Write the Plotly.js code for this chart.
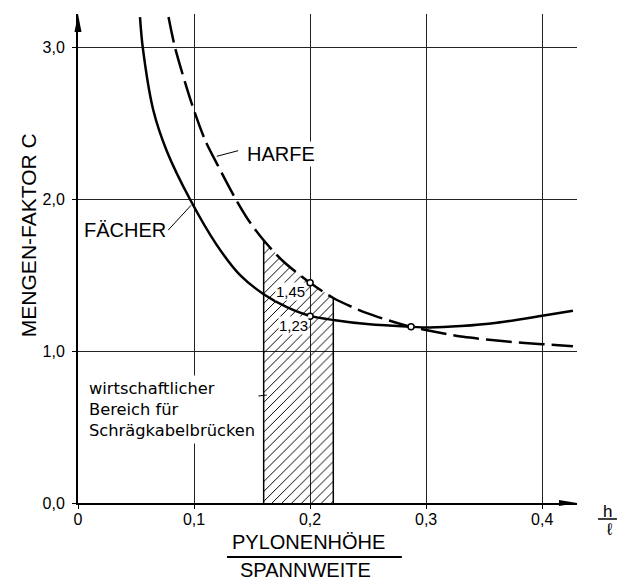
<!DOCTYPE html>
<html><head><meta charset="utf-8">
<script src="https://cdn.plot.ly/plotly-3.0.1.min.js"></script>
<style>html,body{margin:0;padding:0;background:#fff}</style>
</head><body><div id="chart" style="width:617px;height:583px"></div>
<script>
// FÄCHER (fan) – solid curve
const faecherX = [0.0534, 0.0558, 0.0649, 0.0764, 0.0965, 0.1195, 0.1397, 0.16, 0.18, 0.2, 0.22, 0.249, 0.287, 0.303, 0.33, 0.361, 0.4, 0.4265];
const faecherY = [3.20, 3.00, 2.586, 2.32, 2.00, 1.70, 1.50, 1.375, 1.29, 1.232, 1.205, 1.178, 1.16, 1.156, 1.165, 1.187, 1.233, 1.266];
// HARFE (harp) – dashed curve
const harfeX = [0.078, 0.0836, 0.098, 0.1095, 0.12, 0.136, 0.148, 0.16, 0.177, 0.2, 0.22, 0.249, 0.287, 0.303, 0.332, 0.372, 0.4, 0.4265];
const harfeY = [3.20, 3.00, 2.63, 2.39, 2.23, 2.00, 1.85, 1.73, 1.59, 1.45, 1.35, 1.25, 1.16, 1.134, 1.094, 1.062, 1.046, 1.033];
// marked points
const markedX = [0.2, 0.2, 0.287];
const markedY = [1.45, 1.23, 1.16];
const markedLabels = ['1,45', '1,23'];
// economic range for cable-stayed bridges
const rangeBounds = [0.16, 0.22];
// ticks
const xTickVals = [0, 0.1, 0.2, 0.3, 0.4];
const xTickText = ['0', '0,1', '0,2', '0,3', '0,4'];
const yTickVals = [0, 1, 2, 3];
const yTickText = ['0,0', '1,0', '2,0', '3,0'];

const FONT = 'Liberation Sans, Arial, sans-serif';
const NOTEFONT = 'DejaVu Sans, sans-serif';

const hatchX = [], hatchY = [];
harfeX.forEach((x, i) => { if (x >= rangeBounds[0] && x <= rangeBounds[1]) { hatchX.push(x); hatchY.push(harfeY[i]); } });
const yAt = b => harfeY[harfeX.indexOf(b)];

const traces = [
  { x: hatchX, y: hatchY, mode: 'lines', line: {width: 0, color: '#000'}, fill: 'tozeroy',
    fillcolor: 'rgba(0,0,0,0)',
    fillpattern: {shape: '/', size: 7, solidity: 0.14, fgcolor: '#000', bgcolor: 'rgba(0,0,0,0)'},
    hoverinfo: 'skip' },
  { x: [rangeBounds[0], rangeBounds[0], null, rangeBounds[1], rangeBounds[1]],
    y: [0, yAt(rangeBounds[0]), null, 0, yAt(rangeBounds[1])],
    mode: 'lines', line: {color: '#000', width: 1.5}, hoverinfo: 'skip' },
  { x: faecherX, y: faecherY, mode: 'lines', name: 'FÄCHER',
    line: {color: '#000', width: 2.5, shape: 'spline', smoothing: 0.8} },
  { x: harfeX, y: harfeY, mode: 'lines', name: 'HARFE',
    line: {color: '#000', width: 2.5, shape: 'spline', smoothing: 0.8, dash: '26px,7px'} },
  { x: markedX, y: markedY, mode: 'markers',
    marker: {size: 6, color: '#fff', line: {color: '#000', width: 1.5}}, hoverinfo: 'skip' }
];

const C = {xanchor: 'center', yanchor: 'middle', showarrow: false};
const layout = {
  width: 617, height: 583,
  margin: {l: 78, r: 40, t: 14, b: 80, pad: 0},
  paper_bgcolor: '#fff', plot_bgcolor: '#fff',
  showlegend: false,
  xaxis: {range: [0, 0.43], tickvals: xTickVals, ticktext: xTickText,
    showgrid: true, gridcolor: '#222', gridwidth: 1, zeroline: false,
    showline: true, linecolor: '#000', linewidth: 2,
    ticks: 'outside', ticklen: 4, tickcolor: '#000', tickwidth: 1,
    ticklabelstandoff: -3,
    tickfont: {family: FONT, size: 16, color: '#000'}, fixedrange: true},
  yaxis: {range: [0, 3.22], tickvals: yTickVals, ticktext: yTickText,
    showgrid: true, gridcolor: '#222', gridwidth: 1, zeroline: false,
    showline: true, linecolor: '#000', linewidth: 2,
    ticks: 'outside', ticklen: 4, tickcolor: '#000', tickwidth: 1,
    ticklabelstandoff: 4,
    tickfont: {family: FONT, size: 16, color: '#000'}, fixedrange: true},
  shapes: [
    // axis arrowheads
    {type: 'path', xref: 'paper', yref: 'paper', xsizemode: 'pixel', ysizemode: 'pixel',
     xanchor: 0, yanchor: 1, path: 'M0,0 L-3.5,-18 L3.5,-18 Z', fillcolor: '#000', line: {width: 0}},
    {type: 'path', xref: 'paper', yref: 'paper', xsizemode: 'pixel', ysizemode: 'pixel',
     xanchor: 1, yanchor: 0, path: 'M0,0 L-18,3 L-18,-3 Z', fillcolor: '#000', line: {width: 0}},
    // leader lines
    {type: 'line', xref: 'x', yref: 'y', x0: 0.1196, y0: 2.283, x1: 0.138, y1: 2.32, line: {color: '#000', width: 1}},
    {type: 'line', xref: 'x', yref: 'y', x0: 0.0776, y0: 1.796, x1: 0.0974, y1: 1.96, line: {color: '#000', width: 1}},
    {type: 'line', xref: 'x', yref: 'y', x0: 0.1259, y0: 0.678, x1: 0.1627, y1: 0.711, line: {color: '#000', width: 1}},
    // fraction bars
    {type: 'line', xref: 'paper', yref: 'paper', x0: 0.2986, x1: 0.649, y0: -0.1105, y1: -0.1105, line: {color: '#000', width: 2}},
    {type: 'line', xref: 'paper', yref: 'paper', x0: 1.042, x1: 1.08, y0: -0.0327, y1: -0.0327, line: {color: '#000', width: 1.5}}
  ],
  annotations: [
    Object.assign({text: 'HARFE', xref: 'x', yref: 'y', x: 0.1746, y: 2.296, bgcolor: '#fff',
     font: {family: FONT, size: 20, color: '#000'}}, C),
    Object.assign({text: 'FÄCHER', xref: 'x', yref: 'y', x: 0.0401, y: 1.796, bgcolor: '#fff',
     font: {family: FONT, size: 20, color: '#000'}}, C),
    {text: 'wirtschaftlicher<br>Bereich für<br>Schrägkabelbrücken', xref: 'x', yref: 'y', x: 0.006, y: 0.618,
     xanchor: 'left', yanchor: 'middle', align: 'left', showarrow: false, bgcolor: '#fff', borderpad: 3,
     font: {family: NOTEFONT, size: 16.3, color: '#000'}},
    {text: markedLabels[0], xref: 'x', yref: 'y', x: markedX[0], y: 1.395, xanchor: 'right', yanchor: 'middle', xshift: -4,
     showarrow: false, bgcolor: '#fff', borderpad: 0, font: {family: FONT, size: 15, color: '#000'}},
    {text: markedLabels[1], xref: 'x', yref: 'y', x: markedX[1], y: 1.171, xanchor: 'right', yanchor: 'middle', xshift: -1,
     showarrow: false, bgcolor: '#fff', borderpad: 0, font: {family: FONT, size: 15, color: '#000'}},
    Object.assign({text: 'MENGEN-FAKTOR C', xref: 'paper', yref: 'paper', x: -0.1, y: 0.548, textangle: -90,
     font: {family: FONT, size: 21, color: '#000'}}, C),
    Object.assign({text: 'PYLONENHÖHE', xref: 'paper', yref: 'paper', x: 0.461, y: -0.080,
     font: {family: FONT, size: 20, color: '#000'}}, C),
    Object.assign({text: 'SPANNWEITE', xref: 'paper', yref: 'paper', x: 0.455, y: -0.1375, borderpad: 0,
     font: {family: FONT, size: 20, color: '#000'}}, C),
    Object.assign({text: 'h', xref: 'paper', yref: 'paper', x: 1.062, y: -0.0183,
     font: {family: FONT, size: 17, color: '#000'}}, C),
    Object.assign({text: 'ℓ', xref: 'paper', yref: 'paper', x: 1.066, y: -0.055,
     font: {family: FONT, size: 17, color: '#000'}}, C)
  ]
};

Plotly.newPlot('chart', traces, layout, {displayModeBar: false, staticPlot: true});
</script>
</body></html>
